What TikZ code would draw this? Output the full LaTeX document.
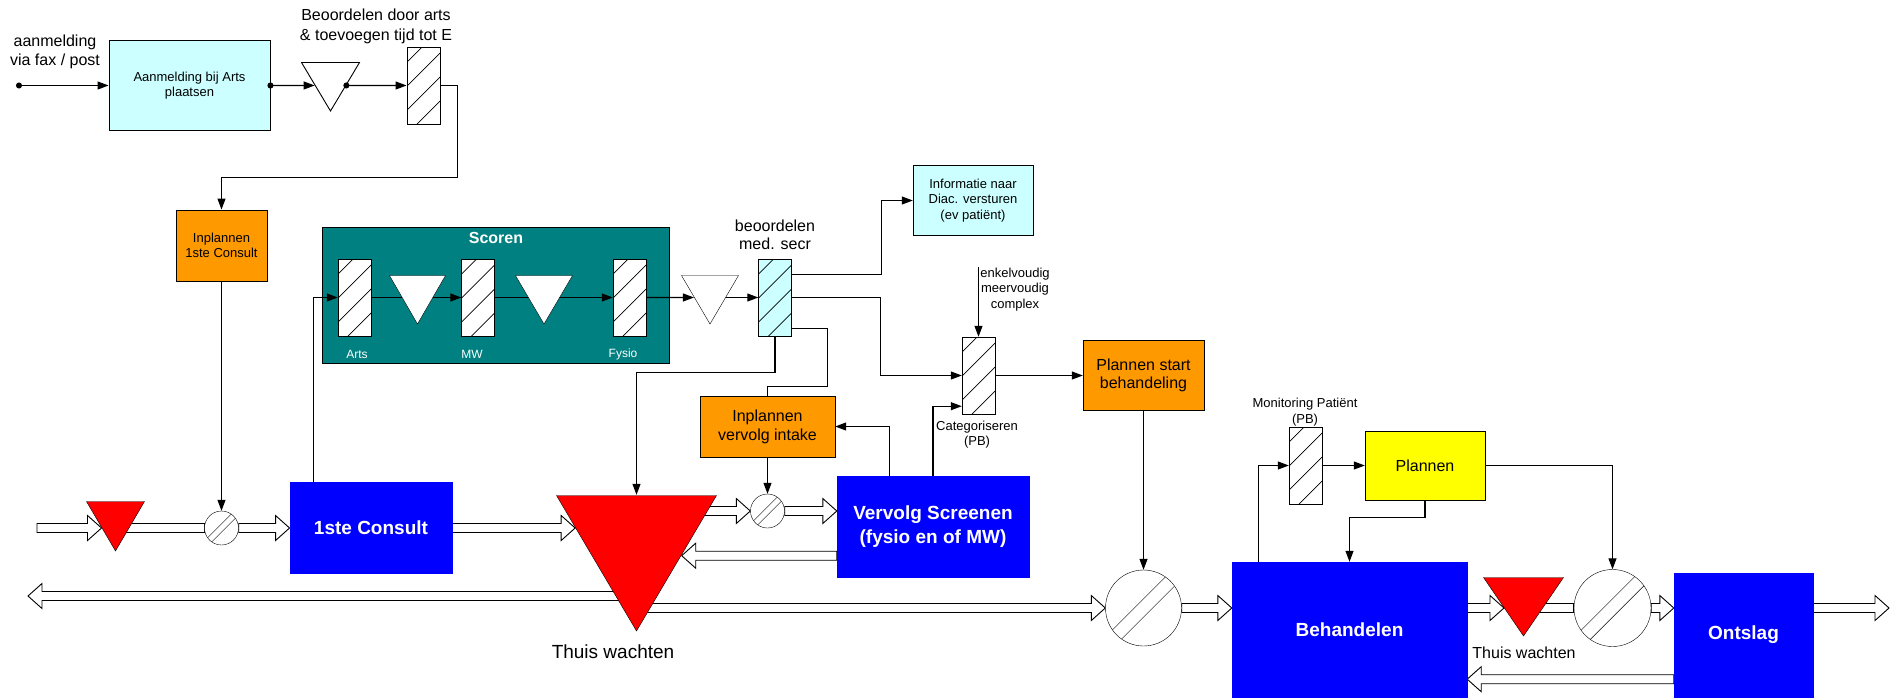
\documentclass[tikz,border=0pt]{standalone}
\usepackage{fontspec}
\setmainfont{Liberation Sans}
\usetikzlibrary{arrows.meta,calc,positioning}

\definecolor{lightcyan}{HTML}{CCFFFF}
\definecolor{planorange}{HTML}{FF9900}
\definecolor{scoreteal}{HTML}{008080}
\definecolor{careblue}{HTML}{0000FF}
\definecolor{planyellow}{HTML}{FFFF00}

\pgfdeclarelayer{back}
\pgfdeclarelayer{mid}
\pgfsetlayers{back,mid,main}

\begin{document}
\begin{tikzpicture}[x=1pt, y=-1pt, line width=0.9pt,
	>={Triangle[length=11pt,width=8pt]},
	link/.style={->, line width=1.1pt},
	dot/.style={{Circle[length=6pt]}->, shorten <=-3pt, line width=1.1pt},
	small text/.style={font=\fontsize{13}{15.5}\selectfont},
	mid text/.style={font=\fontsize{16}{18.5}\selectfont},
	box node/.style={draw, inner sep=0pt, align=center},
	blue node/.style={fill=careblue, draw=careblue, inner sep=0pt, align=center, text=white,
		font=\fontsize{19}{24}\selectfont\bfseries},
	hatch node/.style={draw, fill=white, inner sep=0pt, minimum width=33pt, minimum height=77pt,
		path picture={\foreach \k in {-10,14,38,62}
			\draw[line width=0.7pt] ([yshift=\k pt]path picture bounding box.south west) -- ++(40pt,40pt);}},
	gate node/.style={circle, draw, fill=white, inner sep=0pt, minimum size=#1,
		path picture={\foreach \s/\t in {-1/1,1/-1}
			\draw ([shift={(\s*0.06*#1,\t*0.06*#1)}]path picture bounding box.center)
				+(-#1,-#1) -- +(#1,#1);}},
	wait node/.style={inner sep=0pt, path picture={
		\filldraw[fill=#1] ([shift={(0.5pt,-0.5pt)}]path picture bounding box.north west)
			-- ([shift={(-0.5pt,-0.5pt)}]path picture bounding box.north east)
			-- ([shift={(0pt,1pt)}]path picture bounding box.south) -- cycle;}},
	tube/.style={draw, fill=white, line width=0.9pt},
	flow/.style={tube, to path={let \p1=(\tikztostart), \p2=(\tikztotarget),
		\n1={\x2-ifthenelse(\x2>\x1,14pt,-14pt)} in
		(\x1,\y1+4.5pt) -- (\n1,\y1+4.5pt) -- (\n1,\y1+12.5pt) -- (\x2,\y1)
		-- (\n1,\y1-12.5pt) -- (\n1,\y1-4.5pt) -- (\x1,\y1-4.5pt) -- cycle}}]

	\useasboundingbox (0,0) rectangle (1890,697);

	% aanmelding
	\coordinate (src) at (19,85.5);
	\node[mid text, align=center] (lblaanm) at (55,52) {aanmelding\\via fax / post};
	\node[box node, small text, fill=lightcyan, minimum width=161pt, minimum height=90pt] (aanbox) at (189.5,85.5) {Aanmelding bij Arts\\plaatsen};
	\node[wait node=white, minimum width=59pt, minimum height=50pt] (tri0) at (330.5,87) {};
	\node[hatch node] (hatch0) at (423.5,85.5) {};
	\node[font=\fontsize{16}{20}\selectfont, align=center] (lblbeo) at (376,26) {Beoordelen door arts\\\& toevoegen tijd tot E};
	\node[box node, small text, fill=planorange, minimum width=91pt, minimum height=71pt] (inpl1) at (221.5,245.5) {Inplannen\\1ste Consult};

	% scoren
	\begin{pgfonlayer}{back}
	\node[draw, line width=0.9pt, fill=scoreteal, minimum width=346.5pt, minimum height=136pt] (scoren) at (495.75,295) {};
	\end{pgfonlayer}
	\node[text=white, font=\fontsize{16}{18}\selectfont\bfseries] (scorentitle) at (496,238) {Scoren};
	\node[hatch node] (harts) at (354.5,297.5) {};
	\node[wait node=white, minimum width=57pt, minimum height=50pt] (tris1) at (417.5,300) {};
	\node[hatch node] (hmw) at (478,297.5) {};
	\node[wait node=white, minimum width=58pt, minimum height=50pt] (tris2) at (544,300) {};
	\node[hatch node] (hfysio) at (629.5,297.5) {};
	\node[text=white, font=\fontsize{12}{14}\selectfont] (lblarts) at (357,354) {Arts};
	\node[text=white, font=\fontsize{12}{14}\selectfont] (lblmw) at (472,354) {MW};
	\node[text=white, font=\fontsize{12}{14}\selectfont] (lblfysio) at (623,354) {Fysio};

	% beoordelen en categoriseren
	\node[wait node=white, minimum width=58pt, minimum height=50pt] (tris3) at (710,300) {};
	\node[hatch node, fill=lightcyan] (hsecr) at (775,297.5) {};
	\node[font=\fontsize{16}{17.5}\selectfont, align=center] (lblsecr) at (775,235) {beoordelen\\med. secr};
	\node[box node, small text, fill=lightcyan, minimum width=120pt, minimum height=70pt] (info) at (973,200.5) {Informatie naar\\Diac. versturen\\(ev patiënt)};
	\node[hatch node] (hcat) at (978.5,375.5) {};
	\coordinate (cplx) at (978.5,267);
	\node[small text, align=center] (lblcplx) at (1015,289.5) {enkelvoudig\\meervoudig\\complex};
	\node[font=\fontsize{13}{15}\selectfont, align=center] (lblcat) at (977,434.5) {Categoriseren\\(PB)};
	\node[box node, mid text, fill=planorange, minimum width=121pt, minimum height=70pt] (plst) at (1143.5,375.5) {Plannen start\\behandeling};
	\node[box node, font=\fontsize{16}{19}\selectfont, fill=planorange, minimum width=135pt, minimum height=61pt] (inplv) at (767.5,426.5) {Inplannen\\vervolg intake};

	% hoofdstroom
	\coordinate (inflow) at (37,528);
	\coordinate (home) at (28,596);
	\coordinate (exit) at (1889,608);
	\node[wait node=red, minimum width=59pt, minimum height=51pt] (wr1) at (115.5,526.5) {};
	\node[gate node=34pt] (g1) at (221.5,528) {};
	\node[blue node, minimum width=162.5pt, minimum height=91pt] (cons1) at (371,528) {1ste Consult};
	\node[wait node=red, minimum width=161pt, minimum height=137pt] (wr2) at (636.5,563.5) {};
	\node[font=\fontsize{19}{22}\selectfont] (lblwait1) at (613,652) {Thuis wachten};
	\node[gate node=34pt] (g2) at (767.5,511) {};
	\node[blue node, minimum width=192pt, minimum height=101pt] (vs) at (933,526.5) {Vervolg Screenen\\(fysio en of MW)};
	\node[gate node=76pt] (g3) at (1143.5,608) {};
	\node[blue node, minimum width=235pt, minimum height=135pt] (beh) at (1349.5,629.5) {Behandelen};
	\node[hatch node] (hmon) at (1305.5,465.5) {};
	\node[align=center, font=\fontsize{13}{16}\selectfont] (lblmon) at (1305,412) {Monitoring Patiënt\\(PB)};
	\node[box node, mid text, fill=planyellow, minimum width=120pt, minimum height=69pt] (plan) at (1425,465.5) {Plannen};
	\node[wait node=red, minimum width=81pt, minimum height=60pt] (wr3) at (1523.5,607) {};
	\node[mid text] (lblwait2) at (1524,653) {Thuis wachten};
	\node[gate node=77pt] (g4) at (1612.5,608) {};
	\node[blue node, minimum width=139pt, minimum height=124pt] (ontslag) at (1743.5,635) {Ontslag};

	% verbindingen
	\draw[dot] (src) -- (aanbox.west);
	\draw[dot] (aanbox.east) -- ($(tri0.north west)!0.47!(tri0.south)$);
	\draw[dot] ($(tri0.north east)!0.47!(tri0.south)$) -- (hatch0.west);

	\begin{pgfonlayer}{mid}
	\draw[tube] ($(g1.west)+(0,-4.5)$) rectangle ++(-89,9);
	\draw[tube] ($(g4.west)+(0,-4.5)$) rectangle ++(-50,9);
	\path (inflow) edge[flow] ($(wr1.north west)!0.53!(wr1.south)$)
		(g1.east) edge[flow] (cons1.west)
		(cons1.east) edge[flow] ($(wr2.north west)!0.24!(wr2.south)$)
		(wr2.center |- g2.west) edge[flow] (g2.west)
		(g2.east) edge[flow] (vs.west)
		($(vs.south west)+(0,-21.5)$) edge[flow] ($(wr2.north east)!0.44!(wr2.south)$)
		($(wr2.center)+(0,32.5)$) edge[flow] (home)
		(wr2.center |- g3.west) edge[flow] (g3.west)
		(g3.east) edge[flow] (beh.west)
		(beh.east |- g3.east) edge[flow] ($(wr3.north west)!0.52!(wr3.south)$)
		(g4.east) edge[flow] (ontslag.west)
		(ontslag.east |- g4.east) edge[flow] (exit)
		($(ontslag.south west)+(0,-18)$) edge[flow] (beh.east);

	\draw[link] (hatch0.east) -- ++(17,0) -- ++(0,92) -| (inpl1.north);
	\draw[link] (inpl1.south) -- (g1.north);
	\draw[link] ($(cons1.north west)+(24,0)$) |- (harts.west);
	\draw[link] (harts.east) -- (hmw.west);
	\draw[link] (hmw.east) -- (hfysio.west);
	\draw[link] (hfysio.east) -- ($(tris3.north west)!0.45!(tris3.south)$);
	\draw[link] (tris3.center |- hsecr.west) -- (hsecr.west);
	\draw[link] ($(hsecr.north east)+(0,16)$) -- ++(90,0) |- (info.west);
	\draw[link] (hsecr.east) -- ++(89,0) |- (hcat.west);
	\draw[link, -] ($(hsecr.south east)+(0,-8)$) -- ++(36,0) -- ++(0,58) -| (inplv.north);
	\draw[link] (hsecr.south) -- ++(0,36) -| (wr2.north);
	\draw[link] (cplx) -- (hcat.north);
	\draw[link] (vs.north) |- ($(hcat.south west)+(0,-8)$);
	\draw[link] ($(vs.north west)+(53,0)$) |- (inplv.east);
	\draw[link] (inplv.south) -- (g2.north);
	\draw[link] (hcat.east) -- (plst.west);
	\draw[link] (plst.south) -- (g3.north);
	\draw[link] ($(beh.north west)+(27,0)$) |- (hmon.west);
	\draw[link] (hmon.east) -- (plan.west);
	\draw[link] (plan.south) -- ++(0,17) -| (beh.north);
	\draw[link] (plan.east) -| (g4.north);
	\end{pgfonlayer}
\end{tikzpicture}
\end{document}
